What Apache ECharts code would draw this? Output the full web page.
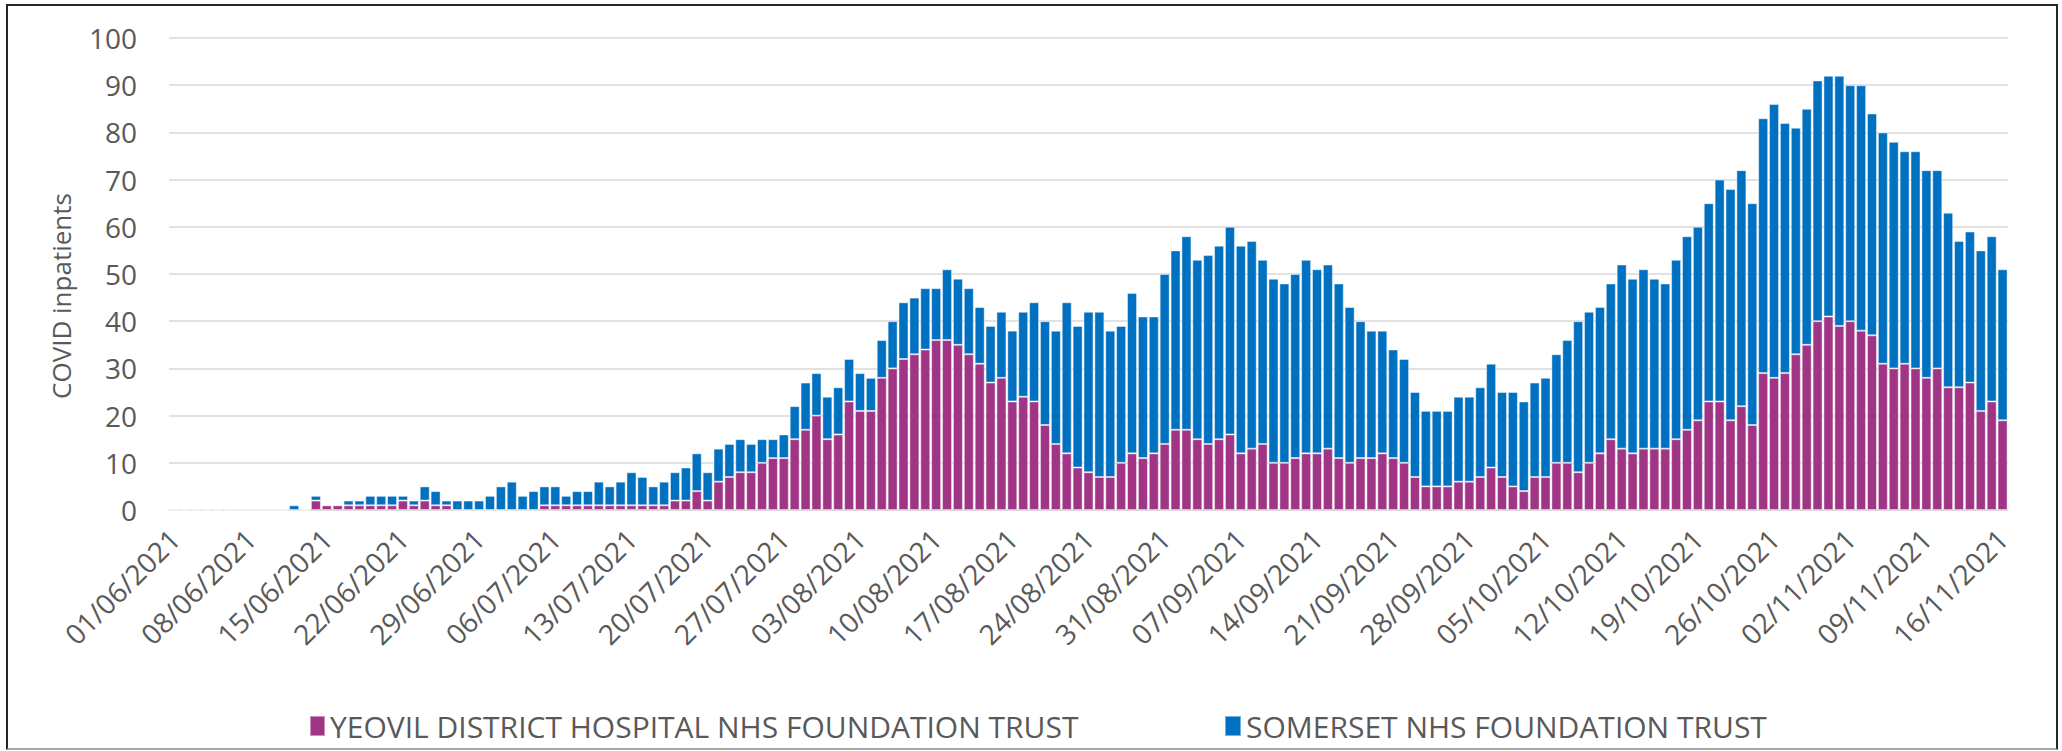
<!DOCTYPE html>
<html>
<head>
<meta charset="utf-8">
<script src="https://cdn.jsdelivr.net/npm/echarts@6/dist/echarts.min.js"></script>
<style>
  html, body { margin: 0; padding: 0; background: #fff; }
  #wrap { position: relative; width: 2062px; height: 751px; }
  #chart { position: absolute; left: 0; top: 0; width: 2062px; height: 751px; }
  #frame { position: absolute; left: 6px; top: 4px; width: 2052px; height: 746px; box-sizing: border-box;
           border: 2px solid #262626; border-bottom-color: #a6a6a6; pointer-events: none; }
</style>
</head>
<body>
<div id="wrap"><div id="chart"></div><div id="frame"></div></div>
<script>
// ---- data ----
const seriesNames = ['YEOVIL DISTRICT HOSPITAL NHS FOUNDATION TRUST', 'SOMERSET NHS FOUNDATION TRUST'];
const firstDay = [2021, 6, 1]; // 01/06/2021, one category per day
const dayCount = 169;          // 01/06/2021 .. 16/11/2021
const yTicks = [0, 10, 20, 30, 40, 50, 60, 70, 80, 90, 100];

const yeovil = [
  0,0,0,0,0,0,0,0,0,0,0,
  0,0,2,1,1,1,1,1,1,1,
  2,1,2,1,1,0,0,0,0,0,
  0,0,0,1,1,1,1,1,1,1,
  1,1,1,1,1,2,2,4,2,6,
  7,8,8,10,11,11,15,17,20,15,
  16,23,21,21,28,30,32,33,34,36,
  36,35,33,31,27,28,23,24,23,18,
  14,12,9,8,7,7,10,12,11,12,
  14,17,17,15,14,15,16,12,13,14,
  10,10,11,12,12,13,11,10,11,11,
  12,11,10,7,5,5,5,6,6,7,
  9,7,5,4,7,7,10,10,8,10,
  12,15,13,12,13,13,13,15,17,19,
  23,23,19,22,18,29,28,29,33,35,
  40,41,39,40,38,37,31,30,31,30,
  28,30,26,26,27,21,23,19
];
const somerset = [
  0,0,0,0,0,0,0,0,0,0,0,
  1,0,1,0,0,1,1,2,2,2,
  1,1,3,3,1,2,2,2,3,5,
  6,3,4,4,4,2,3,3,5,4,
  5,7,6,4,5,6,7,8,6,7,
  7,7,6,5,4,5,7,10,9,9,
  10,9,8,7,8,10,12,12,13,11,
  15,14,14,12,12,14,15,18,21,22,
  24,32,30,34,35,31,29,34,30,29,
  36,38,41,38,40,41,44,44,44,39,
  39,38,39,41,39,39,37,33,29,27,
  26,23,22,18,16,16,16,18,18,19,
  22,18,20,19,20,21,23,26,32,32,
  31,33,39,37,38,36,35,38,41,41,
  42,47,49,50,47,54,58,53,48,50,
  51,51,53,50,52,47,49,48,45,46,
  44,42,37,31,32,34,35,32
];

// category labels dd/mm/yyyy
function pad(n) { return (n < 10 ? '0' : '') + n; }
const categories = [];
for (let i = 0; i < dayCount; i++) {
  const d = new Date(Date.UTC(firstDay[0], firstDay[1] - 1, firstDay[2]) + i * 86400000);
  categories.push(pad(d.getUTCDate()) + '/' + pad(d.getUTCMonth() + 1) + '/' + d.getUTCFullYear());
}

const FONT = "'Open Sans', 'Noto Sans', sans-serif";
const TXT = '#595959';
const GRID = '#d9d9d9';

const chart = echarts.init(document.getElementById('chart'), null, { renderer: 'svg', width: 2062, height: 751 });
chart.setOption({
  animation: false,
  backgroundColor: '#ffffff',
  textStyle: { fontFamily: FONT, color: TXT },
  grid: { left: 169, right: 54, top: 38, bottom: 241, containLabel: false },
  legend: [
    {
      data: [seriesNames[0]],
      left: 304, top: 706, icon: 'rect', itemWidth: 15, itemHeight: 20,
      textStyle: { color: TXT, fontSize: 30, fontFamily: FONT }
    },
    {
      data: [seriesNames[1]],
      left: 1219, top: 706, icon: 'rect', itemWidth: 16, itemHeight: 20,
      textStyle: { color: TXT, fontSize: 30, fontFamily: FONT }
    }
  ],
  xAxis: {
    type: 'category',
    data: categories,
    boundaryGap: true,
    axisLine: { lineStyle: { color: GRID, width: 1.5 } },
    axisTick: { interval: 6, length: 10, lineStyle: { color: GRID, width: 1.5 } },
    axisLabel: { interval: 6, rotate: 45, margin: 24, color: TXT, fontSize: 28, fontFamily: FONT }
  },
  yAxis: {
    type: 'value',
    min: yTicks[0], max: yTicks[yTicks.length - 1], interval: yTicks[1] - yTicks[0],
    name: 'COVID inpatients',
    nameLocation: 'middle',
    nameGap: 95,
    nameTextStyle: { fontSize: 26, color: TXT, fontFamily: FONT, padding: [0, 44, 0, 0] },
    axisLine: { show: false },
    axisTick: { show: false },
    axisLabel: { color: TXT, fontSize: 28, margin: 32, fontFamily: FONT },
    splitLine: { lineStyle: { color: GRID, width: 1.5 } }
  },
  series: [
    {
      name: seriesNames[0], type: 'bar', stack: 'total', data: yeovil,
      barCategoryGap: '8%',
      itemStyle: { color: '#A03586', borderColor: 'rgba(255,255,255,0.45)', borderWidth: 1 }
    },
    {
      name: seriesNames[1], type: 'bar', stack: 'total', data: somerset,
      barCategoryGap: '8%',
      itemStyle: { color: '#0070C0', borderColor: 'rgba(255,255,255,0.45)', borderWidth: 1 }
    }
  ]
});
</script>
</body>
</html>
